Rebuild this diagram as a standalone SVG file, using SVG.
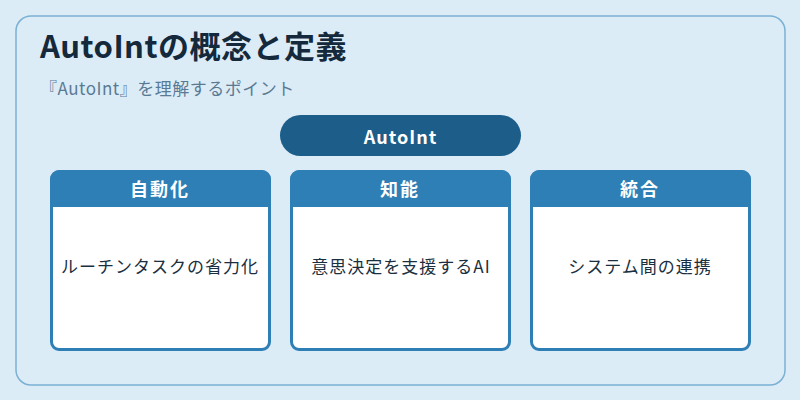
<svg xmlns="http://www.w3.org/2000/svg" width="800" height="400" viewBox="0 0 800 400">
<style>
text{font-family:"Noto Sans CJK JP","Noto Sans",sans-serif}
.h{font-size:18px;font-weight:700;fill:#fff;text-anchor:middle;letter-spacing:2px}
.b{font-size:17px;fill:#1a2f40;text-anchor:middle;letter-spacing:1px}
.card{fill:#fff;stroke:#2e7fb5;stroke-width:3}
.head{fill:#2e7fb5}
</style>
<rect width="800" height="400" fill="#dcecf7"/>
<rect x="16" y="16" width="769" height="369" rx="15" fill="#dcecf7" stroke="#7ab0d4" stroke-width="1.5"/>
<text x="40" y="58" font-size="31" font-weight="700" fill="#14293c" letter-spacing="0.5">AutoIntの概念と定義</text>
<text x="40" y="95" font-size="17" fill="#5a7a94" letter-spacing="0.5">『AutoInt』を理解するポイント</text>
<g id="root"><rect x="280" y="115" width="241" height="41" rx="20.5" fill="#1c5d8a"/><text x="400.500" y="144" font-size="18" font-weight="700" fill="#fff" text-anchor="middle" letter-spacing="1">AutoInt</text></g>
<g id="n1"><rect class="card" x="51.500" y="171.500" width="218" height="178" rx="7.500"/><path class="head" d="M50 207V180a10 10 0 0 1 10-10H261a10 10 0 0 1 10 10V207Z"/><text class="h" x="160" y="196">自動化</text><text class="b" x="160" y="273">ルーチンタスクの省力化</text></g>
<g id="n2"><rect class="card" x="291.500" y="171.500" width="218" height="178" rx="7.500"/><path class="head" d="M290 207V180a10 10 0 0 1 10-10H501a10 10 0 0 1 10 10V207Z"/><text class="h" x="400" y="196">知能</text><text class="b" x="401" y="273">意思決定を支援するAI</text></g>
<g id="n3"><rect class="card" x="531.500" y="171.500" width="218" height="178" rx="7.500"/><path class="head" d="M530 207V180a10 10 0 0 1 10-10H741a10 10 0 0 1 10 10V207Z"/><text class="h" x="640" y="196">統合</text><text class="b" x="640" y="273">システム間の連携</text></g>
<g id="connectors"></g>
</svg>
